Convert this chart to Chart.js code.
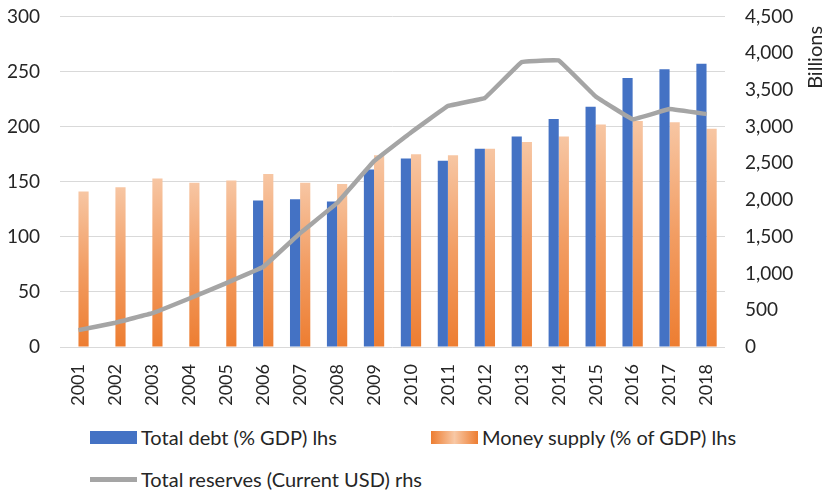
<!DOCTYPE html>
<html>
<head>
<meta charset="utf-8">
<script src="https://cdn.jsdelivr.net/npm/chart.js@4/dist/chart.umd.min.js"></script>
<style>
  body { margin: 0; background: #fff; font-family: Lato, "Open Sans", sans-serif; overflow: hidden; }
  /* canvas is shifted up so the plot's top gridline sits near the page top */
  #wrap { position: absolute; left: 0; top: -15px; width: 829px; height: 435px; }
  .legend-item { position: absolute; display: flex; align-items: center; font-size: 20px; color: #262626; white-space: nowrap; }
  .swatch { width: 47px; margin-right: 4px; }
</style>
</head>
<body>
<div id="wrap"><canvas id="grafico"></canvas></div>
<div id="legenda"></div>
<script>
// -----------------------
// data
// -----------------------
const anos = ["2001", "2002", "2003", "2004", "2005", "2006", "2007", "2008", "2009",
    "2010", "2011", "2012", "2013", "2014", "2015", "2016", "2017", "2018"];

// total debt, % of GDP (left axis)
const divida = [null, null, null, null, null, 133, 134, 132, 161,
    171, 169, 180, 191, 207, 218, 244, 252, 257];

// money supply, % of GDP (left axis)
const moeda = [141, 145, 153, 149, 151, 157, 149, 148, 174,
    175, 174, 180, 186, 191, 202, 205, 204, 198];

// total reserves, billions of current USD (right axis)
const reservas = [230, 330, 460, 660, 870, 1090, 1550, 1960, 2530,
    2920, 3280, 3390, 3880, 3900, 3410, 3100, 3240, 3170];

const ticksEsq = [0, 50, 100, 150, 200, 250, 300];
const ticksDir = [0, 500, 1000, 1500, 2000, 2500, 3000, 3500, 4000, 4500];

const rotulos = [
    "Total debt (% GDP) lhs",
    "Money supply (% of GDP) lhs",
    "Total reserves (Current USD) rhs"
];

// -----------------------
// styles
// -----------------------
const AZUL = "#4472c4";
const LARANJA = "#ed7d31";
const CINZA = "#a5a5a5";
const TEXTO = "#262626";
const FONTE = "Lato, 'Open Sans', sans-serif";

// each orange bar fades to a light peach at its top
function gradienteMoeda(ctx)
{
    const chart = ctx.chart;
    const y = chart.scales.y;
    if (ctx.type !== "data" || !y || !chart.chartArea || ctx.raw == null)
        return LARANJA;
    const topo = y.getPixelForValue(ctx.raw);
    const base = y.getPixelForValue(0);
    const g = chart.ctx.createLinearGradient(0, topo, 0, base);
    g.addColorStop(0, "#f7c6a3");
    g.addColorStop(0.5, "#f29d63");
    g.addColorStop(1, LARANJA);
    return g;
}

// "Billions" reads bottom-to-top beside the right axis
const tituloDireita = {
    id: "tituloDireita",
    afterDraw(chart)
    {
        const c = chart.ctx;
        c.save();
        c.translate(816, chart.chartArea.top + 41);
        c.rotate(-Math.PI / 2);
        c.textAlign = "center";
        c.textBaseline = "middle";
        c.fillStyle = TEXTO;
        c.font = "20px " + FONTE;
        c.fillText("Billions", 0, 0);
        c.restore();
    }
};

const grafico = new Chart(document.getElementById("grafico"), {
    type: "bar",
    data: {
        labels: anos,
        datasets: [
            {
                type: "line",
                label: rotulos[2],
                data: reservas,
                yAxisID: "y1",
                borderColor: CINZA,
                borderWidth: 4.5,
                borderJoinStyle: "round",
                pointRadius: 0,
                tension: 0.05,
                order: 0
            },
            {
                label: rotulos[0],
                data: divida,
                yAxisID: "y",
                backgroundColor: AZUL,
                categoryPercentage: 0.55,
                barPercentage: 1,
                order: 1
            },
            {
                label: rotulos[1],
                data: moeda,
                yAxisID: "y",
                backgroundColor: gradienteMoeda,
                categoryPercentage: 0.55,
                barPercentage: 1,
                order: 1
            }
        ]
    },
    options: {
        responsive: true,
        maintainAspectRatio: false,
        animation: false,
        layout: { padding: { top: 2, left: 0, right: 0, bottom: 0 } },
        plugins: {
            legend: { display: false },
            tooltip: { enabled: false }
        },
        scales: {
            x: {
                grid: { display: false },
                border: { display: false },
                ticks: {
                    minRotation: 90,
                    maxRotation: 90,
                    padding: 9,
                    color: TEXTO,
                    font: { family: FONTE, size: 18 }
                },
                afterFit(s) { s.height = 73; }
            },
            y: {
                position: "left",
                min: 0,
                max: 300,
                afterBuildTicks(s) { s.ticks = ticksEsq.map(v => ({ value: v })); },
                grid: { color: "#d9d9d9", lineWidth: 1, drawTicks: false },
                border: { display: false },
                ticks: {
                    padding: 20,
                    color: TEXTO,
                    font: { family: FONTE, size: 19 }
                },
                afterFit(s) { s.width = 60; }
            },
            y1: {
                position: "right",
                min: 0,
                max: 4500,
                afterBuildTicks(s) { s.ticks = ticksDir.map(v => ({ value: v })); },
                grid: { display: false, drawTicks: false },
                border: { display: false },
                ticks: {
                    padding: 20,
                    color: TEXTO,
                    font: { family: FONTE, size: 19 },
                    callback: v => Number(v).toLocaleString("en-US")
                },
                afterFit(s) { s.width = 104; }
            }
        }
    },
    plugins: [tituloDireita]
});

// -----------------------
// legend below the chart
// -----------------------
const itens = [
    { texto: rotulos[0], x: 90, y: 437, fundo: AZUL, altura: 13 },
    { texto: rotulos[1], x: 431, y: 437,
      fundo: "linear-gradient(to right, #ed7d31 0%, #f8c8a5 50%, #ed7d31 100%)", altura: 13 },
    { texto: rotulos[2], x: 90, y: 479, fundo: CINZA, altura: 5 }
];

const legenda = document.getElementById("legenda");
itens.forEach(it =>
{
    const d = document.createElement("div");
    d.className = "legend-item";
    d.style.left = it.x + "px";
    d.style.top = (it.y - 12) + "px";
    d.style.height = "24px";

    const sw = document.createElement("span");
    sw.className = "swatch";
    sw.style.height = it.altura + "px";
    sw.style.background = it.fundo;

    const t = document.createElement("span");
    t.textContent = it.texto;

    d.appendChild(sw);
    d.appendChild(t);
    legenda.appendChild(d);
});
</script>
</body>
</html>
